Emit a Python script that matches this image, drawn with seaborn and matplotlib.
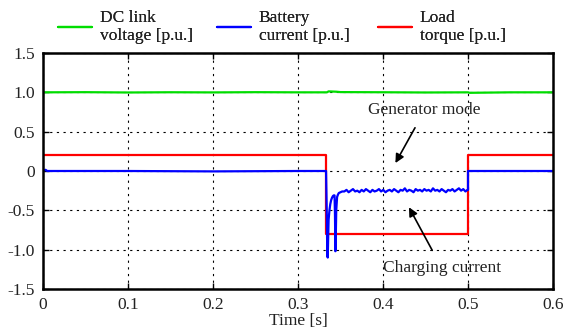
import numpy as np
import pandas as pd
import matplotlib
matplotlib.use("Agg")
import matplotlib.pyplot as plt
import seaborn as sns

# ---- data ----
t_torque = [0.0, 0.3333, 0.3333, 0.5, 0.5, 0.6]
torque = [0.2, 0.2, -0.8, -0.8, 0.2, 0.2]

t_dc = [0.0, 0.05, 0.1, 0.15, 0.2, 0.25, 0.3, 0.334, 0.336, 0.345, 0.35, 0.4, 0.45, 0.5, 0.502, 0.55, 0.6]
dc_link = [1.0, 1.002, 0.998, 1.001, 0.999, 1.002, 1.0, 1.0, 1.012, 1.008, 1.003, 1.001, 0.998, 1.0, 0.994, 1.0, 1.0]

t_batt_head = [0.0, 0.003, 0.005, 0.01, 0.1, 0.2, 0.3, 0.333, 0.3338, 0.3345, 0.335, 0.3355, 0.336, 0.337,
               0.338, 0.339, 0.340, 0.341, 0.342, 0.343, 0.3435, 0.344, 0.3445, 0.345, 0.346,
               0.347, 0.348, 0.350, 0.352]
batt_head = [0.0, 0.015, 0.0, 0.0, 0.0, -0.005, 0.0, 0.0, -0.5, -1.08, -1.1, -0.85, -0.62, -0.5,
             -0.42, -0.37, -0.34, -0.32, -0.31, -0.31, -0.55, -1.02, -0.8, -0.5, -0.33,
             -0.3, -0.28, -0.27, -0.26]
batt_noise = [-0.26, -0.24, -0.27, -0.25, -0.23, -0.26, -0.25, -0.27, -0.24, -0.26,
              -0.23, -0.25, -0.27, -0.24, -0.26, -0.25, -0.23, -0.26, -0.24, -0.27,
              -0.25, -0.24, -0.26, -0.23, -0.25, -0.27, -0.24, -0.25, -0.22, -0.26,
              -0.24, -0.25, -0.27, -0.23, -0.25, -0.24, -0.26, -0.23, -0.25, -0.24,
              -0.26, -0.22, -0.25, -0.24, -0.26, -0.23, -0.25, -0.27, -0.24, -0.25,
              -0.23, -0.26, -0.24, -0.22, -0.25, -0.23, -0.26, -0.24]
t_batt_noise = list(np.linspace(0.3545, 0.4995, len(batt_noise)))
t_batt_tail = [0.5, 0.5, 0.55, 0.6]
batt_tail = [-0.24, 0.0, 0.0, 0.0]

t_batt = t_batt_head + t_batt_noise + t_batt_tail
batt = batt_head + batt_noise + batt_tail

x_ticks = [0, 0.1, 0.2, 0.3, 0.4, 0.5, 0.6]
x_labels = ["0", "0.1", "0.2", "0.3", "0.4", "0.5", "0.6"]
y_ticks = [-1.5, -1.0, -0.5, 0, 0.5, 1.0, 1.5]
y_labels = ["-1.5", "-1.0", "-0.5", "0", "0.5", "1.0", "1.5"]

labels = ["DC link\nvoltage [p.u.]", "Battery\ncurrent [p.u.]", "Load\ntorque [p.u.]"]
colors = ["#00dd00", "#0000ff", "#ff0000"]

# ---- plot ----
sns.set_style("white")
plt.rcParams["font.family"] = ["Liberation Serif", "DejaVu Serif"]
plt.rcParams["axes.unicode_minus"] = False
FS = 12.5
TXT = "#222222"

fig = plt.figure(figsize=(5.63, 3.31), dpi=100)
ax = fig.add_axes([43 / 563, 1 - 289 / 331, 510 / 563, 236 / 331])

df_t = pd.DataFrame({"t": t_torque, "v": torque})
df_b = pd.DataFrame({"t": t_batt, "v": batt})
df_d = pd.DataFrame({"t": t_dc, "v": dc_link})

sns.lineplot(data=df_t, x="t", y="v", ax=ax, color=colors[2], lw=1.6, sort=False, estimator=None, label=labels[2])
sns.lineplot(data=df_b, x="t", y="v", ax=ax, color=colors[1], lw=1.6, sort=False, estimator=None, label=labels[1])
sns.lineplot(data=df_d, x="t", y="v", ax=ax, color=colors[0], lw=1.6, sort=False, estimator=None, label=labels[0])

ax.set_xlim(0, 0.6)
ax.set_ylim(-1.5, 1.5)
ax.set_xticks(x_ticks)
ax.set_xticklabels(x_labels)
ax.set_yticks(y_ticks)
ax.set_yticklabels(y_labels)
ax.tick_params(direction="in", length=4, width=1, labelsize=FS, colors="black", labelcolor=TXT, pad=6,
               top=True, right=True, bottom=True, left=True, labeltop=False, labelright=False)
ax.tick_params(axis="x", pad=6)
ax.grid(True, color="black", linestyle=(0, (2, 4)), linewidth=0.8)
for s in ax.spines.values():
    s.set_color("black")
    s.set_linewidth(1.8)
ax.set_xlabel("Time [s]", fontsize=FS, labelpad=0, color=TXT)
ax.set_ylabel("")

ax.annotate("Generator mode", xy=(0.413, 0.07), xytext=(0.449, 0.77),
            ha="center", va="center", fontsize=FS, color=TXT,
            arrowprops=dict(arrowstyle="-|>", color="black", lw=1.2, mutation_scale=13, shrinkA=5))
ax.annotate("Charging current", xy=(0.429, -0.43), xytext=(0.469, -1.23),
            ha="center", va="center", fontsize=FS, color=TXT,
            arrowprops=dict(arrowstyle="-|>", color="black", lw=1.2, mutation_scale=13, shrinkA=5))

h, l = ax.get_legend_handles_labels()
ax.get_legend().remove()
order = [2, 1, 0]
xs = [58, 217, 378]
for k, i in enumerate(order):
    leg = fig.legend([h[i]], [l[i]], loc="center left",
                     bbox_to_anchor=(xs[k] / 563, 1 - 27 / 331), frameon=False, fontsize=FS,
                     handlelength=1.95, handletextpad=0.45, borderpad=0, borderaxespad=0)
    for t in leg.get_texts():
        t.set_color(TXT)
    fig.add_artist(leg)

fig.savefig("out.png", dpi=100)
